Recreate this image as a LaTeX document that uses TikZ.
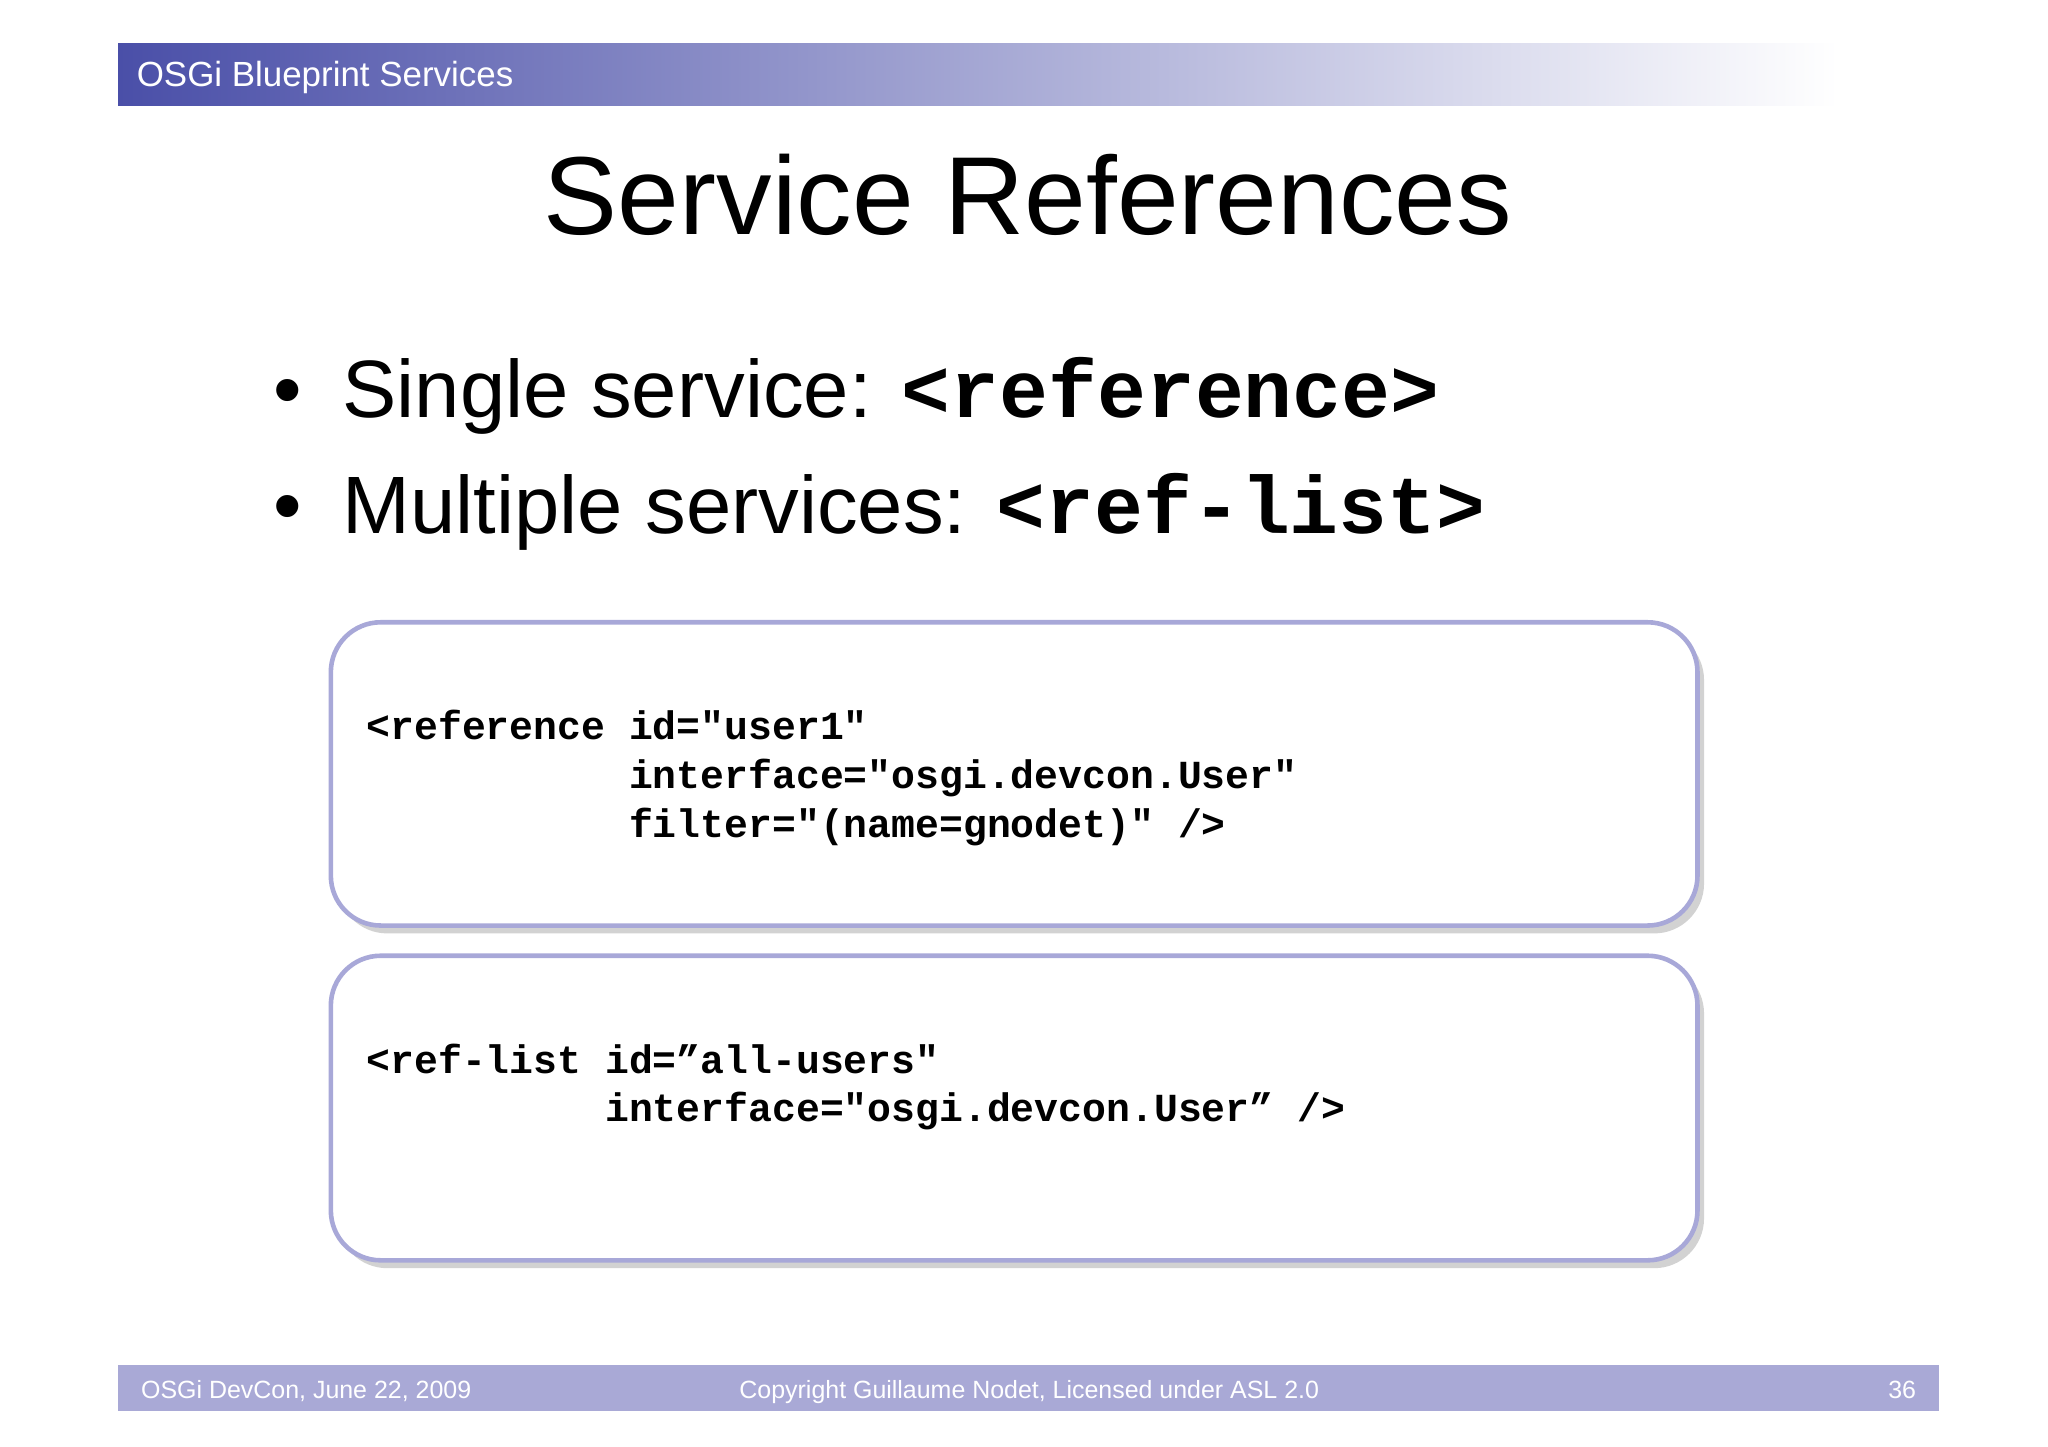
\documentclass[tikz,border=0pt]{standalone}
\usepackage{fontspec}
\setmainfont{Liberation Sans}
\setmonofont{Liberation Mono}
\usetikzlibrary{shadows,calc}
\definecolor{hdr}{HTML}{4A4FA8}
\definecolor{ftr}{HTML}{A9A9D6}
\definecolor{boxc}{HTML}{A8A8D8}
\begin{document}
\begin{tikzpicture}[x=1pt,y=-1pt,
  codebox/.style={draw=boxc,line width=3.5pt,rounded corners=38pt,fill=white,
    drop shadow={shadow xshift=5pt,shadow yshift=-6pt,opacity=0.35,fill=gray}},
  code/.style={anchor=north west,font=\ttfamily\bfseries\fontsize{30.3}{37}\selectfont,align=left,inner sep=0},
  foot/.style={text=white,font=\fontsize{19}{23}\selectfont,anchor=base}]
\useasboundingbox (0,0) rectangle (1560,1102);
\fill[white] (0,0) rectangle (1560,1102);
\shade[left color=hdr,right color=white] (90,33) rectangle (1400,80);
\node[anchor=base west,text=white,font=\fontsize{26.6}{30}\selectfont,inner sep=0] (hd) at (104,66) {OSGi Blueprint Services};
\node[anchor=base,font=\fontsize{84.5}{100}\selectfont,inner sep=0] (title) at (783,179) {Service References};
\node[anchor=base west,font=\fontsize{62}{70}\selectfont,inner sep=0] (b1) at (208,318) {•\hspace{31pt}Single service: {\ttfamily\bfseries <reference>}};
\node[anchor=base west,font=\fontsize{62}{70}\selectfont,inner sep=0] (b2) at (208,406) {•\hspace{31pt}Multiple services: {\ttfamily\bfseries <ref-list>}};
\path[codebox] (252,474) rectangle (1293,705);
\path[codebox] (252,728) rectangle (1293,960);
\node[code] (c1) at (279,541) {<reference id="user1"\\
\phantom{<reference }interface="osgi.devcon.User"\\
\phantom{<reference }filter="(name=gnodet)" />};
\node[code] (c2) at (279,795) {<ref-list id=”all-users"\\
\phantom{<ref-list }interface="osgi.devcon.User” />};
\fill[ftr] (90,1040) rectangle (1477,1075);
\node[foot,anchor=base west] (f1) at (104,1065) {OSGi DevCon, June 22, 2009};
\node[foot] (f2) at (784,1065) {Copyright Guillaume Nodet, Licensed under ASL 2.0};
\node[foot,anchor=base east] (f3) at (1463,1065) {36};
\end{tikzpicture}
\end{document}
